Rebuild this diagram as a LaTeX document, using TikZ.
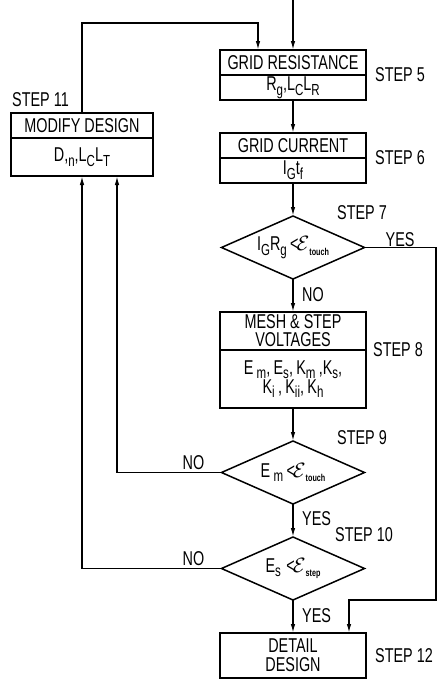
\documentclass[tikz,border=0pt]{standalone}
\usepackage{fontspec}
\setmainfont{Liberation Sans}[FakeStretch=0.72]
\usetikzlibrary{shapes.geometric, arrows.meta, positioning}
\newcommand{\dn}[1]{\raisebox{-0.45ex}{\fontsize{16}{16}\selectfont #1}}
\newcommand{\ltE}{<\kern-2pt$\mathcal{E}$}
\newcommand{\tiw}[1]{\dn{\fontsize{10}{10}\selectfont\bfseries #1}}

\begin{document}
\begin{tikzpicture}[
    x=1pt, y=-1pt,
    node distance=33pt,
    font=\fontsize{20}{19}\selectfont,
    box/.style={draw, line width=1.5pt, outer sep=0pt, minimum width=146pt, inner sep=0pt, align=center},
    test/.style={draw, line width=1.5pt, outer sep=0pt, shape=diamond, minimum width=143pt, minimum height=63pt, inner sep=0pt},
    lbl/.style={inner sep=0pt},
    arr/.style={-{Latex[length=9pt, width=4.5pt]}, line width=1.4pt},
]
\useasboundingbox (0,0) rectangle (437,680);

% main column
\coordinate (start) at (293,0);
\node[box, minimum height=25pt] (gr) at (293,62.5) {GRID RESISTANCE};
\node[box, minimum height=25pt, below=0pt of gr] (grv) {R\dn{g},L\dn{C}L\dn{R}};
\node[box, minimum height=25pt, below=of grv] (gc) {GRID CURRENT};
\node[box, minimum height=25pt, below=0pt of gc] (gcv) {I\dn{G}t\dn{f}};
\node[test, below=of gcv] (d7) {};
\node[box, minimum height=38pt, font=\fontsize{20}{18}\selectfont, below=of d7] (mesh) {MESH \& STEP\\VOLTAGES};
\node[box, minimum height=58pt, below=0pt of mesh] (meshv) {E\,\dn{m},\,E\dn{s},\,K\dn{m}\,,K\dn{s},\\K\dn{i}\,,\,K\dn{ii},\,K\dn{h}};
\node[test, below=of meshv] (d9) {};
\node[test, below=of d9] (d10) {};
\node[box, minimum height=45pt, font=\fontsize{20}{19}\selectfont, below=of d10] (detail) {DETAIL\\DESIGN};

% diamond texts
\node (d7t) at (d7) {I\dn{G}R\dn{g}\,\ltE\tiw{touch}};
\node (d9t) at (d9) {E\,\dn{m}\,\ltE\tiw{touch}};
\node (d10t) at (d10) {E\dn{s}\;\ltE\tiw{step}};

% left box
\node[box, minimum width=142pt, minimum height=25pt] (md) at (82,125.5) {MODIFY DESIGN};
\node[box, minimum width=142pt, minimum height=38pt, below=0pt of md] (mdv) {D,\dn{n},L\dn{C}L\dn{T}};

% step labels
\node[lbl, right=9pt of gr.south east] (s5) {STEP 5};
\node[lbl, right=9pt of gc.south east] (s6) {STEP 6};
\node[lbl, anchor=west] (s7) at ([xshift=44pt,yshift=3pt]d7.north) {STEP 7};
\node[lbl, right=7pt of meshv.north east] (s8) {STEP 8};
\node[lbl, anchor=west] (s9) at ([xshift=44pt,yshift=3pt]d9.north) {STEP 9};
\node[lbl, anchor=west] (s10) at ([xshift=42pt,yshift=2pt]d10.north) {STEP 10};
\node[lbl, above right=6pt and 1pt of md.north west] (s11) {STEP 11};
\node[lbl, right=9pt of detail.east] (s12) {STEP 12};

% yes / no
\node[lbl, above right=1pt and 21pt of d7.east] (y7) {YES};
\node[lbl, below right=8pt and 9pt of d7.south] (n7) {NO};
\node[lbl, above left=3pt and 17pt of d9.west] (n9) {NO};
\node[lbl, below right=7pt and 9pt of d9.south] (y9) {YES};
\node[lbl, above left=3pt and 17pt of d10.west] (n10) {NO};
\node[lbl, below right=8pt and 9pt of d10.south] (y10) {YES};

\foreach \a/\b in {start/gr, grv/gc, gcv/d7, d7/mesh, meshv/d9, d9/d10, d10/detail} {
    \draw[arr] (\a) -- (\b);
}

\draw[arr] (md.north) |- ([xshift=-35pt,yshift=27pt]gr.north) -- ([xshift=-35pt]gr.north);
\coordinate (rt) at (436,600);
\draw[arr] (d7.east) -| (rt) -| ([xshift=56pt]detail.north);
\draw[arr] (d9.west) -| ([xshift=35pt]mdv.south);
\draw[arr] (d10.west) -| (mdv.south);

\end{tikzpicture}
\end{document}
